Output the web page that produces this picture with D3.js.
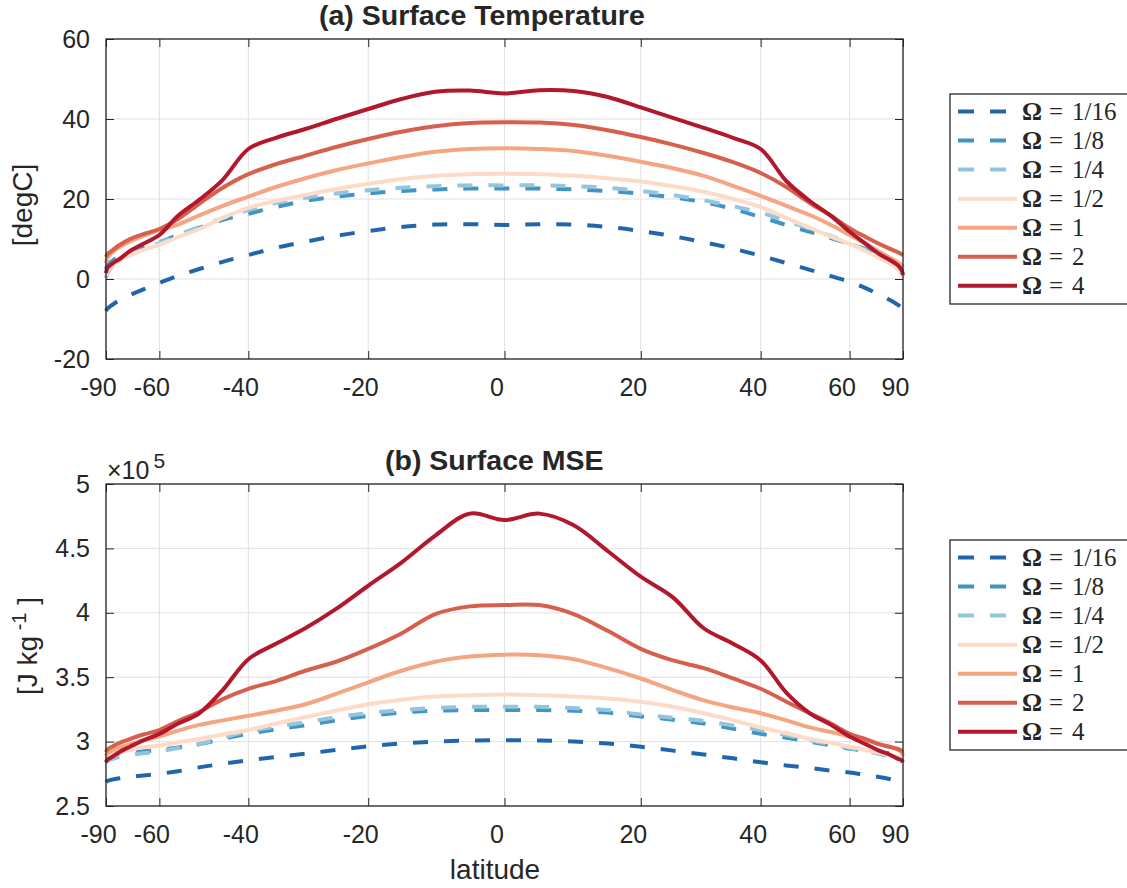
<!DOCTYPE html>
<html>
<head>
<meta charset="utf-8">
<script src="https://cdn.jsdelivr.net/npm/d3@7"></script>
<style>
  body { margin: 0; background: #fff; }
  text { font-family: "Liberation Sans", Arial, Helvetica, sans-serif; fill: #262626; }
</style>
</head>
<body>
<svg id="fig" width="1127" height="888"></svg>
<script>
// latitude grid the curves were read on
var latitudes = [-90,-85,-80,-75,-70,-65,-60,-55,-50,-45,-40,-35,-30,-25,-20,-15,-10,-5,0,
                 5,10,15,20,25,30,35,40,45,50,55,60,65,70,75,80,85,90];
var latTicks = [-90,-60,-40,-20,0,20,40,60,90];

var omegaLabels = ["1/16","1/8","1/4","1/2","1","2","4"];
var omegaColors = ["#2166ac","#4393c3","#92c5de","#fddbc7","#f4a582","#d6604d","#b2182b"];
var omegaDashed = [true,true,true,false,false,false,false];

// (a) surface temperature, degC
var tempOmega1_16 = [-8.0,-7.4,-6.5,-5.3,-4.0,-2.6,-1.0,0.8,2.5,4.3,6.0,7.8,9.3,10.8,12.0,13.0,13.6,13.7,13.5,
                     13.7,13.6,13.0,12.0,10.7,9.2,7.6,5.8,4.0,2.3,0.7,-0.7,-2.3,-3.9,-5.2,-6.3,-7.1,-7.6];
var tempOmega1_8  = [2.5,3.5,4.5,5.6,6.8,8.0,9.2,11.0,12.8,14.8,16.3,18.0,19.5,20.6,21.4,22.0,22.4,22.6,22.6,
                     22.6,22.4,22.0,21.3,20.4,19.2,17.5,15.5,13.5,11.8,10.2,8.8,7.5,6.3,5.2,4.1,3.0,2.0];
var tempOmega1_4  = [0.3,1.5,3.0,4.6,6.0,7.5,9.0,11.0,13.0,15.2,17.2,19.0,20.3,21.4,22.2,22.8,23.2,23.4,23.4,
                     23.4,23.2,22.8,22.0,21.0,19.7,18.2,16.6,14.5,12.6,10.7,8.9,7.3,5.8,4.4,3.0,1.6,0.3];
var tempOmega1_2  = [0.8,2.0,3.2,4.6,5.9,7.3,8.6,10.5,12.5,15.3,17.8,19.5,21.0,22.5,23.8,25.0,25.8,26.2,26.3,
                     26.2,25.8,25.2,24.4,23.2,21.8,20.0,18.0,15.3,12.8,10.6,8.8,7.0,5.3,3.9,2.6,1.4,0.6];
var tempOmega1    = [4.0,5.3,6.6,8.0,9.4,10.8,12.2,13.6,15.9,18.3,20.6,23.0,25.2,27.2,28.9,30.5,31.8,32.5,32.7,
                     32.5,32.0,30.8,29.3,27.7,25.8,23.3,20.8,18.3,16.0,13.5,11.0,8.8,6.9,5.4,4.3,3.5,3.0];
var tempOmega2    = [5.5,6.2,7.1,8.5,10.0,11.2,12.5,15.0,18.8,22.8,26.2,28.7,30.8,33.0,35.0,36.8,38.2,39.0,39.2,
                     39.1,38.5,37.2,35.5,33.6,31.5,29.2,26.5,23.0,19.0,15.8,12.7,10.5,8.8,7.6,6.8,6.2,6.0];
var tempOmega4    = [1.5,2.8,3.8,5.0,7.0,8.8,11.0,15.8,19.8,24.8,32.5,35.3,37.5,40.0,42.5,45.0,46.8,47.1,46.4,
                     47.2,47.0,45.5,42.9,40.3,37.8,35.3,32.5,24.5,19.5,15.8,11.8,8.8,6.3,4.8,3.6,2.3,1.0];

// (b) surface moist static energy, units of 1e5 J/kg
var mseOmega1_16 = [2.686,2.695,2.705,2.715,2.725,2.737,2.75,2.77,2.80,2.827,2.855,2.88,2.906,2.935,2.963,2.985,3.0,3.008,3.01,
                    3.008,3.0,2.985,2.96,2.93,2.90,2.87,2.84,2.815,2.795,2.775,2.76,2.74,2.725,2.71,2.695,2.68,2.67];
var mseOmega1_8  = [2.89,2.90,2.905,2.91,2.92,2.925,2.935,2.955,2.98,3.02,3.06,3.095,3.126,3.165,3.20,3.225,3.24,3.245,3.245,
                    3.245,3.24,3.225,3.195,3.17,3.14,3.10,3.06,3.03,3.0,2.97,2.945,2.93,2.92,2.91,2.90,2.895,2.89];
var mseOmega1_4  = [2.835,2.85,2.865,2.88,2.895,2.91,2.925,2.95,2.98,3.03,3.08,3.115,3.15,3.19,3.22,3.245,3.26,3.27,3.27,
                    3.27,3.26,3.245,3.21,3.185,3.16,3.125,3.09,3.05,3.01,2.98,2.95,2.925,2.905,2.885,2.865,2.85,2.84];
var mseOmega1_2  = [2.87,2.885,2.90,2.915,2.935,2.955,2.97,2.995,3.02,3.055,3.09,3.14,3.19,3.24,3.29,3.325,3.35,3.36,3.365,
                    3.36,3.35,3.335,3.31,3.27,3.22,3.165,3.11,3.065,3.02,2.99,2.96,2.935,2.915,2.895,2.88,2.865,2.855];
var mseOmega1    = [2.89,2.91,2.93,2.955,2.98,3.01,3.04,3.085,3.13,3.165,3.20,3.24,3.29,3.37,3.46,3.55,3.62,3.66,3.675,
                    3.67,3.64,3.57,3.49,3.40,3.32,3.265,3.22,3.165,3.11,3.075,3.04,3.01,2.98,2.96,2.94,2.915,2.89];
var mseOmega2    = [2.92,2.94,2.96,2.99,3.02,3.055,3.09,3.16,3.23,3.33,3.41,3.47,3.55,3.62,3.72,3.84,3.99,4.05,4.06,
                    4.06,3.99,3.86,3.72,3.63,3.57,3.49,3.41,3.31,3.22,3.14,3.06,3.02,2.98,2.96,2.945,2.93,2.92];
var mseOmega4    = [2.84,2.86,2.88,2.92,2.96,3.01,3.06,3.14,3.22,3.40,3.64,3.76,3.88,4.03,4.21,4.39,4.60,4.77,4.72,
                    4.77,4.68,4.48,4.28,4.12,3.88,3.76,3.63,3.38,3.22,3.13,3.04,2.98,2.93,2.90,2.87,2.855,2.84];

var tempTicks = [-20,0,20,40,60];
var mseTicks = [2.5,3,3.5,4,4.5,5];

var svg = d3.select("#fig");

// x axis is linear in sin(latitude)
var x = d3.scaleLinear().domain([-1, 1]).range([106, 903]);
function sinDeg(d) { return Math.sin(d * Math.PI / 180); }
function xLat(lat) { return x(sinDeg(lat)); }

function drawPanel(opt) {
    var y = d3.scaleLinear().domain(opt.yDomain).range([opt.bottom, opt.top]);
    var g = svg.append("g");

    // grid
    g.append("g").selectAll("line").data(latTicks).enter().append("line")
        .attr("x1", function(d) { return xLat(d); }).attr("x2", function(d) { return xLat(d); })
        .attr("y1", opt.top).attr("y2", opt.bottom)
        .attr("stroke", "#e1e1e1").attr("stroke-width", 1);
    g.append("g").selectAll("line").data(opt.yTicks).enter().append("line")
        .attr("x1", 106).attr("x2", 903)
        .attr("y1", function(d) { return y(d); }).attr("y2", function(d) { return y(d); })
        .attr("stroke", "#e1e1e1").attr("stroke-width", 1);

    // curves
    var line = d3.line()
        .x(function(d, i) { return xLat(latitudes[i]); })
        .y(function(d) { return y(d); })
        .curve(d3.curveCatmullRom.alpha(0.5));

    g.append("g").selectAll("path").data(opt.series).enter().append("path")
        .attr("d", function(d) { return line(d); })
        .attr("fill", "none")
        .attr("stroke", function(d, i) { return omegaColors[i]; })
        .attr("stroke-width", 4)
        .attr("stroke-linejoin", "round")
        .attr("stroke-dasharray", function(d, i) { return omegaDashed[i] ? "15,16" : null; });

    // axes (ticks point inward)
    var xTickPos = latTicks.map(sinDeg);
    var xb = g.append("g").attr("transform", "translate(0," + opt.bottom + ")")
        .call(d3.axisBottom(x).tickValues(xTickPos)
            .tickFormat(function(d, i) { return latTicks[i]; })
            .tickSizeInner(-8).tickSizeOuter(0).tickPadding(19));
    var xt = g.append("g").attr("transform", "translate(0," + opt.top + ")")
        .call(d3.axisTop(x).tickValues(xTickPos).tickFormat("").tickSizeInner(-8).tickSizeOuter(0));
    var yl = g.append("g").attr("transform", "translate(106,0)")
        .call(d3.axisLeft(y).tickValues(opt.yTicks).tickFormat(opt.yFormat)
            .tickSizeInner(-8).tickSizeOuter(0).tickPadding(16));
    var yr = g.append("g").attr("transform", "translate(903,0)")
        .call(d3.axisRight(y).tickValues(opt.yTicks).tickFormat("").tickSizeInner(-8).tickSizeOuter(0));

    [xb, xt, yl, yr].forEach(function(a) {
        a.select(".domain").remove();
        a.selectAll("line").attr("stroke", "#262626");
        a.selectAll("text").attr("font-size", 25).attr("fill", "#262626")
            .attr("font-family", "Liberation Sans, Arial, sans-serif");
    });
    xb.selectAll("text").attr("dx", -8);

    // box
    g.append("rect").attr("x", 106).attr("y", opt.top)
        .attr("width", 903 - 106).attr("height", opt.bottom - opt.top)
        .attr("fill", "none").attr("stroke", "#262626").attr("stroke-width", 1.3);

    // title
    g.append("text").attr("x", opt.titleX).attr("y", opt.titleY)
        .attr("font-size", 28.5).attr("font-weight", "bold").attr("fill", "#000")
        .text(opt.title);

    // legend
    var lg = g.append("g").attr("transform", "translate(950," + opt.legendTop + ")");
    lg.append("rect").attr("x", 0).attr("y", 0).attr("width", 200).attr("height", 210)
        .attr("fill", "#fff").attr("stroke", "#262626").attr("stroke-width", 1.3);
    var item = lg.selectAll("g.item").data(omegaLabels).enter().append("g")
        .attr("transform", function(d, i) { return "translate(0," + (17.5 + i * 29.05) + ")"; });
    item.append("line")
        .attr("x1", 8).attr("x2", 67).attr("y1", 0).attr("y2", 0)
        .attr("stroke", function(d, i) { return omegaColors[i]; })
        .attr("stroke-width", 4)
        .attr("stroke-dasharray", function(d, i) { return omegaDashed[i] ? "16,16" : null; });
    var t = item.append("text").attr("y", 8.5).attr("font-size", 25)
        .style("font-family", "'Liberation Serif', 'DejaVu Serif', serif").attr("fill", "#000");
    t.append("tspan").attr("x", 72).attr("font-weight", "bold").text("\u03A9");
    t.append("tspan").attr("x", 99).text("=");
    t.append("tspan").attr("x", 122).text(function(d) { return d; });

    return y;
}

drawPanel({
    top: 39, bottom: 359, yDomain: [-20, 60], yTicks: tempTicks,
    yFormat: function(d) { return d; },
    series: [tempOmega1_16, tempOmega1_8, tempOmega1_4, tempOmega1_2, tempOmega1, tempOmega2, tempOmega4],
    title: "(a) Surface Temperature", titleX: 319, titleY: 25, legendTop: 94
});

drawPanel({
    top: 484, bottom: 806, yDomain: [2.5, 5], yTicks: mseTicks,
    yFormat: function(d) { return d; },
    series: [mseOmega1_16, mseOmega1_8, mseOmega1_4, mseOmega1_2, mseOmega1, mseOmega2, mseOmega4],
    title: "(b) Surface MSE", titleX: 385, titleY: 470, legendTop: 540
});

// exponent note above panel (b)
var ex = svg.append("text").attr("x", 107).attr("y", 479).attr("font-size", 25);
ex.append("tspan").text("\u00D710");
ex.append("tspan").attr("dx", 4).attr("dy", -11).attr("font-size", 21).text("5");

// axis labels
svg.append("text").attr("transform", "translate(32,205) rotate(-90)")
    .attr("text-anchor", "middle").attr("font-size", 28).text("[degC]");
var yb = svg.append("text").attr("transform", "translate(37,646) rotate(-90)")
    .attr("text-anchor", "middle").attr("font-size", 28);
yb.append("tspan").text("[J kg");
yb.append("tspan").attr("dy", -11).attr("font-size", 20).text(" -1");
yb.append("tspan").attr("dy", 11).text(" ]");

svg.append("text").attr("x", 495).attr("y", 879)
    .attr("text-anchor", "middle").attr("font-size", 28).text("latitude");
</script>
</body>
</html>
